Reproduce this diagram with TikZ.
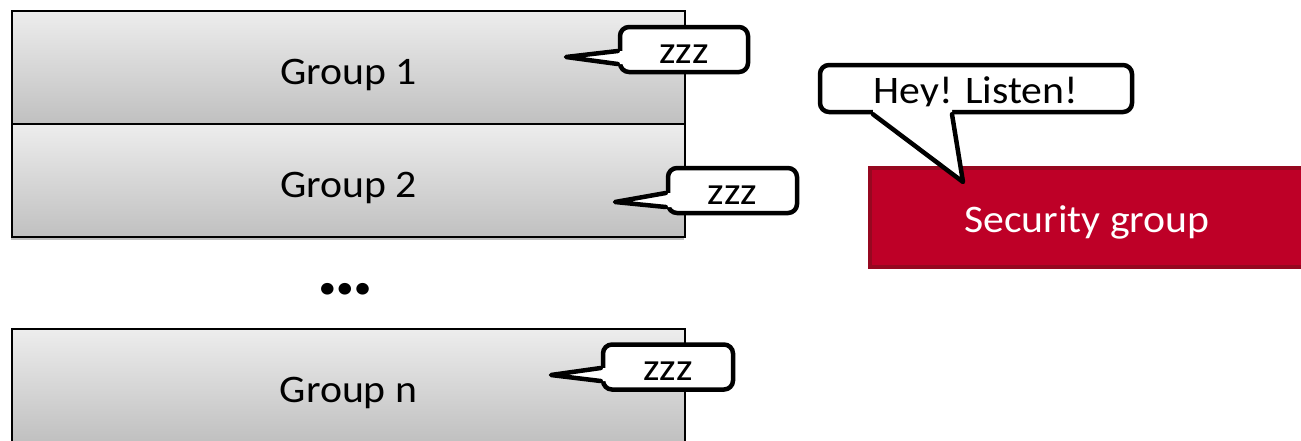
\documentclass[tikz,border=0pt]{standalone}
\usepackage{fontspec}
\setmainfont[FakeStretch=1.07]{Carlito}
\usetikzlibrary{calc,shadows}
\definecolor{secred}{RGB}{190,0,39}
\definecolor{secborder}{RGB}{150,8,32}
\definecolor{gtop}{RGB}{237,237,237}
\definecolor{gbot}{RGB}{192,192,192}
\begin{document}
\begin{tikzpicture}[x=1pt,y=-1pt,
  bigfont/.style={font=\fontsize{39}{42}\selectfont},
  groupbox/.style={bigfont, draw=black, line width=2pt, top color=gtop, bottom color=gbot,
    minimum width=673pt, minimum height=113pt, inner sep=0pt, text height=34pt, text depth=0pt,
    drop shadow={shadow xshift=-1.5pt, shadow yshift=-2.5pt, fill=black, opacity=0.25}},
  secbox/.style={bigfont, draw=secborder, line width=3.5pt, fill=secred, text=white,
    minimum width=434pt, minimum height=99pt, inner sep=0pt, text height=29pt, text depth=0pt},
  bubble/.style={bigfont, draw=black, fill=white, line width=4.5pt, rounded corners=9pt,
    inner xsep=0pt, inner ysep=0pt, text height=36pt, text depth=9pt},
  tailline/.style={draw=black, line width=4.5pt, line join=round, line cap=round},
]
\useasboundingbox (0,0) rectangle (1301,440);

% group boxes
\node[groupbox] (g1) at (348.5,67.5) {Group 1};
\node[groupbox] (g2) at (348.5,180.5) {Group 2};
\node[font=\fontsize{33}{40}\selectfont] (dots) at (345,291) {•••};
\node[groupbox] (gn) at (348.5,385.5) {Group n};

% security group
\node[secbox] (sec) at (1087,217.5) {Security group};

% zzz bubbles
\node[bubble, minimum width=128pt] (z1) at (684,49.5) {zzz};
\coordinate (z1tip) at (566,57);
\fill[white] ($(z1.west)+(0,1.5)$) -- (z1tip) -- ($(z1.west)+(0,14.5)$) -- ($(z1.west)+(8,14.5)$) -- ($(z1.west)+(8,1.5)$) -- cycle;
\draw[tailline] ($(z1.west)+(0,1.5)$) -- (z1tip) -- ($(z1.west)+(0,14.5)$);

\node[bubble, minimum width=129pt] (z2) at (732.5,190.5) {zzz};
\coordinate (z2tip) at (615,202);
\fill[white] ($(z2.west)+(0,2.5)$) -- (z2tip) -- ($(z2.west)+(0,16.5)$) -- ($(z2.west)+(8,16.5)$) -- ($(z2.west)+(8,2.5)$) -- cycle;
\draw[tailline] ($(z2.west)+(0,2.5)$) -- (z2tip) -- ($(z2.west)+(0,16.5)$);

\node[bubble, minimum width=130pt] (zn) at (668,367) {zzz};
\coordinate (zntip) at (551,375);
\fill[white] ($(zn.west)+(0,1)$) -- (zntip) -- ($(zn.west)+(0,14)$) -- ($(zn.west)+(8,14)$) -- ($(zn.west)+(8,1)$) -- cycle;
\draw[tailline] ($(zn.west)+(0,1)$) -- (zntip) -- ($(zn.west)+(0,14)$);

% Hey! Listen! bubble
\node[bubble, minimum width=312pt, text height=38pt, text depth=9pt] (hey) at (976,88.5) {Hey! Listen!};
\coordinate (heytip) at (963,182);
\fill[white] ($(hey.south)+(-103,0)$) -- (heytip) -- ($(hey.south)+(-24,0)$) -- ($(hey.south)+(-24,-8)$) -- ($(hey.south)+(-103,-8)$) -- cycle;
\draw[tailline] ($(hey.south)+(-103,0)$) -- (heytip) -- ($(hey.south)+(-24,0)$);
\end{tikzpicture}
\end{document}
